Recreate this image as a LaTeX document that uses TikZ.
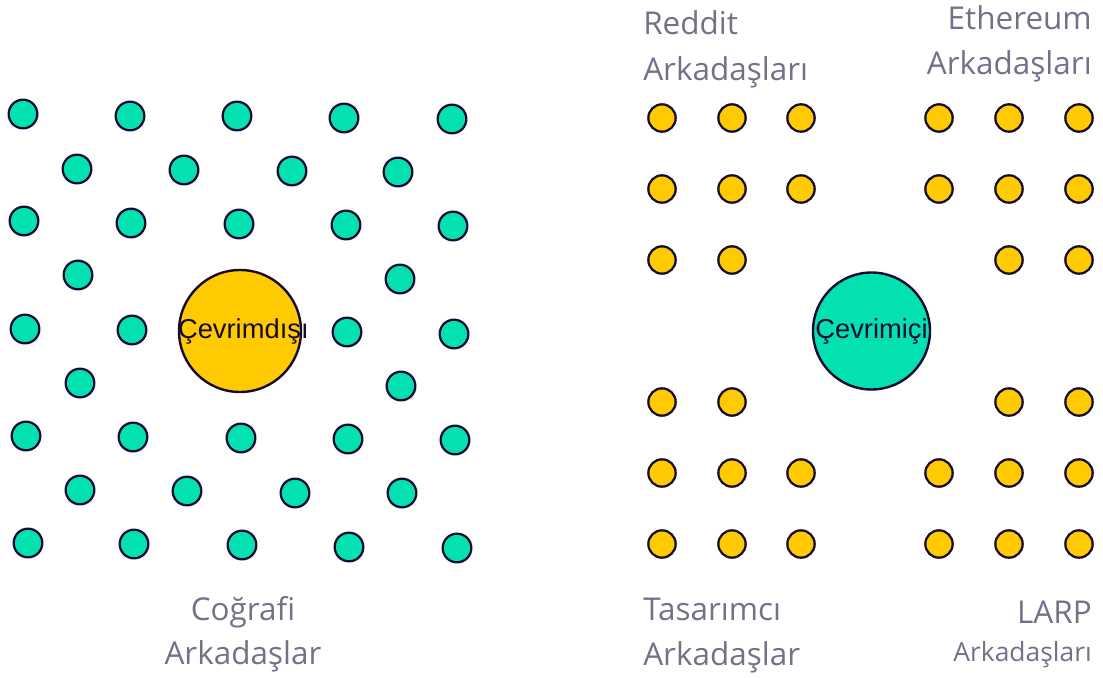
\documentclass[tikz,border=0pt]{standalone}
\usepackage{fontspec}
\setmainfont{Open Sans}
\newfontfamily\centerfont{Liberation Sans}
\definecolor{mint}{HTML}{03E1B0}
\definecolor{gold}{HTML}{FFCB00}
\definecolor{ink}{HTML}{160B33}
\definecolor{labelgrey}{HTML}{74708A}
\begin{document}
\begin{tikzpicture}[x=0.75pt,y=-0.75pt,
  gdot/.style={circle,draw=ink,fill=mint,line width=1.7pt,minimum size=21.5pt,inner sep=0pt},
  ydot/.style={circle,draw=ink,fill=gold,line width=1.7pt,minimum size=20.5pt,inner sep=0pt},
  hub/.style={circle,draw=ink,line width=1.8pt,inner sep=0pt,text=ink,font=\centerfont\fontsize{20.5}{24}\selectfont},
  biglabel/.style={text=labelgrey,inner sep=0pt,font=\fontsize{23.6}{28}\selectfont},
  smalllabel/.style={text=labelgrey,inner sep=0pt,font=\fontsize{19.8}{24}\selectfont}]
\useasboundingbox (0,0) rectangle (1103,678);
% left: geographic friends
\foreach \x/\y [count=\i] in {23/114,130/116,237/116,344/118,452/119,
  77/169,184/170,292/171,398/172,
  24/221,131/223,239/224,346/225,453/226,
  78/275,400/279,
  25/329,132/330,347/332,454/334,
  80/383,401/386,
  26/436,133/437,241/438,348/439,455/440,
  80/490,187/491,295/493,402/493,
  28/543,134/544,242/545,349/547,457/548}
  \node[gdot] (g\i) at (\x,\y) {};
\node[hub,fill=gold,minimum size=91.5pt] (offline) at (240,331) {\makebox[0pt]{\hspace{5pt}Çevrimdışı}};
% right: online friends
\foreach \x/\y [count=\i] in {662/118,732/118,801/118,939/118,1009/118,1079/118,
  662/189,732/189,801/189,939/189,1009/189,1079/189,
  662/260,732/260,1009/260,1079/260,
  662/402,732/402,1009/402,1079/402,
  662/473,732/473,801/473,939/473,1009/473,1079/473,
  662/544,732/544,801/544,939/544,1009/544,1079/544}
  \node[ydot] (y\i) at (\x,\y) {};
\node[hub,fill=mint,minimum size=87.75pt] (online) at (871.5,331) {\makebox[0pt]{Çevrimiçi}};
% labels
\node[biglabel,anchor=base west] (reddit1) at (643,34) {Reddit};
\node[biglabel,anchor=base west] (reddit2) at (643,80) {Arkadaşları};
\node[biglabel,anchor=base east] (eth1) at (1092,29) {Ethereum};
\node[biglabel,anchor=base east] (eth2) at (1092,74) {Arkadaşları};
\node[biglabel,anchor=base west] (design1) at (643,620) {Tasarımcı};
\node[biglabel,anchor=base west] (design2) at (643,665) {Arkadaşlar};
\node[biglabel,anchor=base east] (larp1) at (1092,623) {LARP};
\node[smalllabel,anchor=base east] (larp2) at (1092,661) {Arkadaşları};
\node[biglabel,anchor=base] (geo1) at (243,620) {Coğrafi};
\node[biglabel,anchor=base] (geo2) at (243,664) {Arkadaşlar};
\end{tikzpicture}
\end{document}
